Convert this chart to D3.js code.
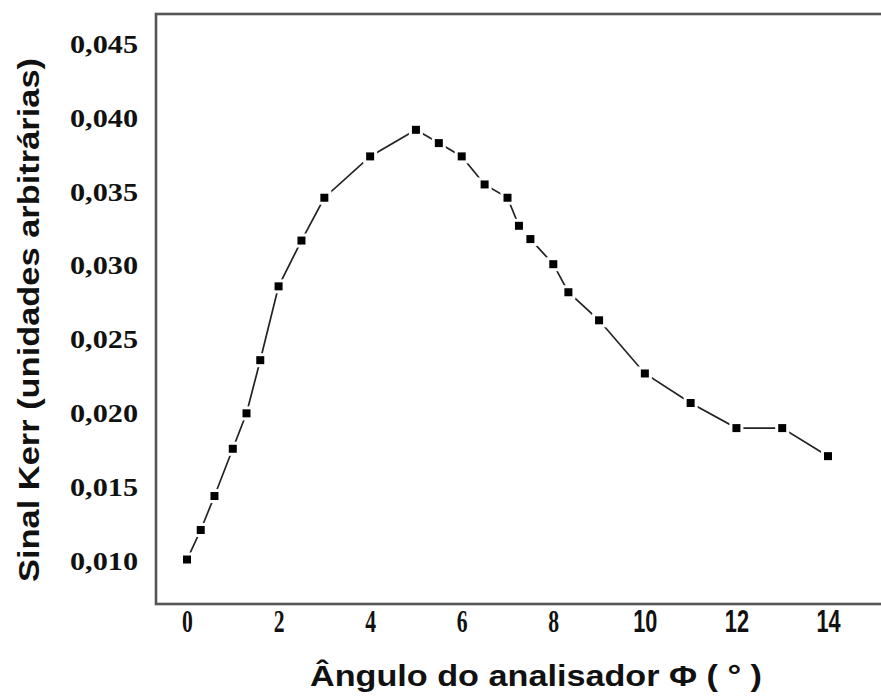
<!DOCTYPE html>
<html>
<head>
<meta charset="utf-8">
<script src="https://cdn.jsdelivr.net/npm/d3@7"></script>
<style>
  html, body { margin: 0; padding: 0; background: #fff; }
  svg { display: block; }
</style>
</head>
<body>
<svg id="chart" width="881" height="696"></svg>
<script>
// Kerr signal versus analyser angle
const angles = [0, 0.3, 0.6, 1.0, 1.3, 1.6, 2.0, 2.5, 3.0, 4.0, 5.0, 5.5, 6.0, 6.5, 7.0,
                7.25, 7.5, 8.0, 8.33, 9.0, 10, 11, 12, 13, 14];
const kerrSignal = [0.0101, 0.0121, 0.0144, 0.0176, 0.0200, 0.0236, 0.0286, 0.0317, 0.0346,
                    0.0374, 0.0392, 0.0383, 0.0374, 0.0355, 0.0346, 0.0327, 0.0318, 0.0301,
                    0.0282, 0.0263, 0.0227, 0.0207, 0.0190, 0.0190, 0.0171];
const xTicks = [0, 2, 4, 6, 8, 10, 12, 14];
const yTicks = [0.010, 0.015, 0.020, 0.025, 0.030, 0.035, 0.040, 0.045];
const xTitle = "Ângulo do analisador Φ ( ° )";
const yTitle = "Sinal Kerr (unidades arbitrárias)";

const points = angles.map((a, i) => ({ a, v: kerrSignal[i] }));

const svg = d3.select("#chart");
const frame = { left: 156, top: 14, right: 905, bottom: 604 };

const x = d3.scaleLinear().domain([0, 14]).range([187, 828]);
const y = d3.scaleLinear().domain([0.010, 0.040]).range([561, 118]);

const ptBR = d3.formatLocale({ decimal: ",", thousands: ".", grouping: [3], currency: ["R$", ""] });
const fmtY = ptBR.format(".3f");

// plot frame
svg.append("rect")
  .attr("x", frame.left).attr("y", frame.top)
  .attr("width", frame.right - frame.left).attr("height", frame.bottom - frame.top)
  .attr("fill", "none").attr("stroke", "#555").attr("stroke-width", 2.6);

// y axis labels
const yAxis = svg.append("g")
  .attr("transform", `translate(138,0)`)
  .call(d3.axisLeft(y).tickValues(yTicks).tickFormat(fmtY).tickSize(0).tickPadding(0));
yAxis.select(".domain").remove();
yAxis.selectAll("text")
  .attr("font-family", "'Liberation Serif', 'Times New Roman', serif")
  .attr("font-weight", "bold")
  .attr("font-size", 26)
  .attr("fill", "#111")
  .attr("textLength", 68)
  .attr("lengthAdjust", "spacingAndGlyphs");

// x axis labels (narrow glyphs)
const xAxis = svg.append("g")
  .attr("transform", `translate(0,${frame.bottom})`)
  .call(d3.axisBottom(x).tickValues(xTicks).tickFormat(d3.format("d")).tickSize(0).tickPadding(6));
xAxis.select(".domain").remove();
xAxis.selectAll("text")
  .attr("font-family", d => d >= 10 ? "'Liberation Sans', Arial, sans-serif" : "'Liberation Serif', 'Times New Roman', serif")
  .attr("font-weight", "bold")
  .attr("font-size", 31)
  .attr("fill", "#111")
  .attr("transform", "scale(0.7,1)");

// connecting line
const line = d3.line().x(d => x(d.a)).y(d => y(d.v));
svg.append("path")
  .datum(points)
  .attr("d", line)
  .attr("fill", "none")
  .attr("stroke", "#222")
  .attr("stroke-width", 1.7);

// square markers with a white halo
const s = 8;
svg.append("g").selectAll("rect")
  .data(points)
  .join("rect")
  .attr("x", d => x(d.a) - s / 2)
  .attr("y", d => y(d.v) - s / 2)
  .attr("width", s).attr("height", s)
  .attr("fill", "#000")
  .attr("stroke", "#fff")
  .attr("stroke-width", 6)
  .attr("paint-order", "stroke");

// axis titles
svg.append("text")
  .attr("x", 536).attr("y", 686)
  .attr("text-anchor", "middle")
  .attr("font-family", "'Liberation Sans', Arial, sans-serif")
  .attr("font-weight", "bold")
  .attr("font-size", 30)
  .attr("fill", "#111")
  .attr("textLength", 452)
  .attr("lengthAdjust", "spacingAndGlyphs")
  .text(xTitle);

svg.append("text")
  .attr("transform", "translate(39,320) rotate(-90)")
  .attr("text-anchor", "middle")
  .attr("font-family", "'Liberation Sans', Arial, sans-serif")
  .attr("font-weight", "bold")
  .attr("font-size", 29)
  .attr("fill", "#111")
  .attr("textLength", 524)
  .attr("lengthAdjust", "spacingAndGlyphs")
  .text(yTitle);
</script>
</body>
</html>
